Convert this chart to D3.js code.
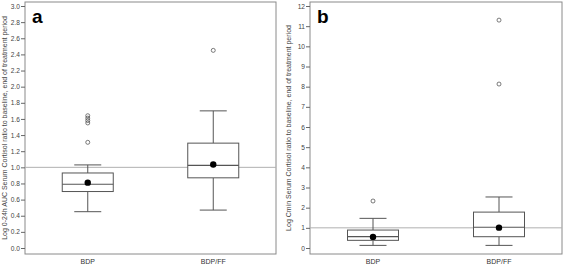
<!DOCTYPE html>
<html>
<head>
<meta charset="utf-8">
<script src="https://cdn.jsdelivr.net/npm/d3@7"></script>
<style>
body { margin: 0; background: #fff; }
svg { font-family: "Liberation Sans", Arial, sans-serif; }
</style>
</head>
<body>
<div id="chart"></div>
<script>
// groups on the x axis
const groups = ["BDP", "BDP/FF"];

// panel a: log 0-24h AUC ratio
const aStats = [
    {group: "BDP", lo: 0.45, q1: 0.70, med: 0.79, q3: 0.93, hi: 1.03, mean: 0.81},
    {group: "BDP/FF", lo: 0.47, q1: 0.87, med: 1.025, q3: 1.30, hi: 1.70, mean: 1.035}
];
const aOutliers = [
    {group: "BDP", v: 1.31}, {group: "BDP", v: 1.55}, {group: "BDP", v: 1.58},
    {group: "BDP", v: 1.61}, {group: "BDP", v: 1.64},
    {group: "BDP/FF", v: 2.45}
];
const aTicks = d3.range(0, 3.01, 0.2);

// panel b: log Cmin ratio
const bStats = [
    {group: "BDP", lo: 0.13, q1: 0.38, med: 0.56, q3: 0.89, hi: 1.47, mean: 0.55},
    {group: "BDP/FF", lo: 0.13, q1: 0.56, med: 1.03, q3: 1.78, hi: 2.53, mean: 1.01}
];
const bOutliers = [
    {group: "BDP", v: 2.33},
    {group: "BDP/FF", v: 8.13}, {group: "BDP/FF", v: 11.3}
];
const bTicks = d3.range(0, 13, 1);

const svg = d3.select("#chart").append("svg")
    .attr("width", 567)
    .attr("height", 267);

function drawPanel(opts) {
    let g = svg.append("g").attr("transform", "translate(" + opts.left + ",0)");
    let w = opts.width, top = 2, bottom = 254;

    let y = d3.scaleLinear().domain(opts.domain).range([248, 6]);
    let x = d3.scaleBand().domain(groups).range([0, w]).paddingInner(0.5).paddingOuter(0.25);
    let cx = d => x(d) + x.bandwidth() / 2;
    let boxW = 51, capW = 27;

    // frame
    g.append("rect")
        .attr("x", 0).attr("y", top)
        .attr("width", w).attr("height", bottom - top)
        .attr("fill", "none").attr("stroke", "#8a8a8a").attr("stroke-width", 1);

    // y axis
    let yAxis = d3.axisLeft(y).tickValues(opts.ticks).tickSize(4).tickPadding(1)
        .tickFormat(opts.fmt);
    let ay = g.append("g").call(yAxis);
    ay.select(".domain").remove();
    ay.selectAll("line").attr("stroke", "#666");
    ay.selectAll("text").attr("fill", "#444").style("font-size", "6.6px");

    // x labels
    let xAxis = d3.axisBottom(x).tickSize(0).tickPadding(5);
    let ax = g.append("g").attr("transform", "translate(0," + bottom + ")").call(xAxis);
    ax.select(".domain").remove();
    ax.selectAll("text").attr("fill", "#333").style("font-size", "7px");

    // reference line at 1
    g.append("line")
        .attr("x1", 0).attr("x2", w)
        .attr("y1", y(1)).attr("y2", y(1))
        .attr("stroke", "#b0b0b0").attr("stroke-width", 1);

    let col = "#555";
    let boxes = g.selectAll(".box").data(opts.stats).enter().append("g").attr("class", "box");

    boxes.append("line")
        .attr("x1", d => cx(d.group)).attr("x2", d => cx(d.group))
        .attr("y1", d => y(d.hi)).attr("y2", d => y(d.q3))
        .attr("stroke", col);
    boxes.append("line")
        .attr("x1", d => cx(d.group)).attr("x2", d => cx(d.group))
        .attr("y1", d => y(d.q1)).attr("y2", d => y(d.lo))
        .attr("stroke", col);
    ["hi", "lo"].forEach(k => {
        boxes.append("line")
            .attr("x1", d => cx(d.group) - capW / 2).attr("x2", d => cx(d.group) + capW / 2)
            .attr("y1", d => y(d[k])).attr("y2", d => y(d[k]))
            .attr("stroke", col);
    });
    boxes.append("rect")
        .attr("x", d => cx(d.group) - boxW / 2)
        .attr("y", d => y(d.q3))
        .attr("width", boxW)
        .attr("height", d => y(d.q1) - y(d.q3))
        .attr("fill", "#fff").attr("stroke", col);
    boxes.append("line")
        .attr("x1", d => cx(d.group) - boxW / 2).attr("x2", d => cx(d.group) + boxW / 2)
        .attr("y1", d => y(d.med)).attr("y2", d => y(d.med))
        .attr("stroke", col).attr("stroke-width", 1.2);
    boxes.append("circle")
        .attr("cx", d => cx(d.group)).attr("cy", d => y(d.mean))
        .attr("r", 3.2).attr("fill", "#000");

    g.selectAll(".outlier").data(opts.outliers).enter().append("circle")
        .attr("class", "outlier")
        .attr("cx", d => cx(d.group)).attr("cy", d => y(d.v))
        .attr("r", 2).attr("fill", "none").attr("stroke", "#444").attr("stroke-width", 0.7);

    // panel letter
    g.append("text")
        .attr("x", 7).attr("y", 23)
        .style("font-size", "19px").style("font-weight", "bold")
        .attr("fill", "#000")
        .text(opts.letter);

    // y title
    g.append("text")
        .attr("transform", "translate(" + (opts.titleX) + "," + ((top + bottom) / 2) + ") rotate(-90)")
        .attr("text-anchor", "middle")
        .style("font-size", "7px")
        .attr("fill", "#444")
        .text(opts.title);
}

drawPanel({
    left: 25, width: 251, domain: [0, 3], ticks: aTicks, fmt: d3.format(".1f"),
    stats: aStats, outliers: aOutliers, letter: "a", titleX: -18,
    title: "Log 0-24h AUC Serum Cortisol ratio to baseline, end of treatment period"
});
drawPanel({
    left: 310, width: 252, domain: [0, 12], ticks: bTicks, fmt: d3.format("d"),
    stats: bStats, outliers: bOutliers, letter: "b", titleX: -19,
    title: "Log Cmin Serum Cortisol ratio to baseline, end of treatment period"
});
</script>
</body>
</html>
